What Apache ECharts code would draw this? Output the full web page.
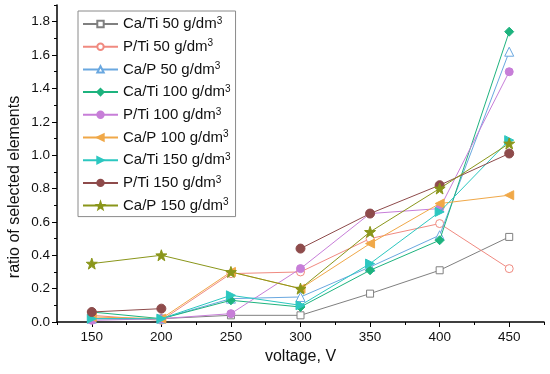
<!DOCTYPE html>
<html><head><meta charset="utf-8">
<script src="https://cdn.jsdelivr.net/npm/echarts@6/dist/echarts.min.js"></script>
<style>html,body{margin:0;padding:0;background:#fff}#c{width:550px;height:374px}</style>
</head><body><div id="c"></div>
<script>
const voltages = [150, 200, 250, 300, 350, 400, 450];
const seriesNames = ['Ca/Ti 50', 'P/Ti 50', 'Ca/P 50', 'Ca/Ti 100', 'P/Ti 100', 'Ca/P 100', 'Ca/Ti 150', 'P/Ti 150', 'Ca/P 150'];
const caTi50  = [0.02, 0.02, 0.04, 0.04, 0.17, 0.31, 0.51];
const pTi50   = [0.04, 0.01, 0.29, 0.30, 0.50, 0.59, 0.32];
const caP50   = [0.02, 0.02, 0.14, 0.15, 0.33, 0.52, 1.62];
const caTi100 = [0.06, 0.02, 0.13, 0.09, 0.31, 0.49, 1.74];
const pTi100  = [0.01, 0.02, 0.05, 0.32, 0.65, 0.68, 1.50];
const caP100  = [0.03, 0.02, 0.30, 0.20, 0.47, 0.71, 0.76];
const caTi150 = [0.02, 0.02, 0.16, 0.10, 0.35, 0.66, 1.09];
const pTi150  = [0.06, 0.08, null, 0.44, 0.65, 0.82, 1.01];
const caP150  = [0.35, 0.40, 0.30, 0.20, 0.54, 0.80, 1.07];
const xMajorTicks = [150, 200, 250, 300, 350, 400, 450];
const yMajorTicks = [0, 0.2, 0.4, 0.6, 0.8, 1.0, 1.2, 1.4, 1.6, 1.8];

const values = [caTi50, pTi50, caP50, caTi100, pTi100, caP100, caTi150, pTi150, caP150];
const STAR = 'path://M0,-10 L2.35,-3.24 L9.51,-3.09 L3.8,1.24 L5.88,8.09 L0,4 L-5.88,8.09 L-3.8,1.24 L-9.51,-3.09 L-2.35,-3.24Z';
const styles = [
  {c:'#808080', sym:'rect', size:7, open:true},
  {c:'#f08a80', sym:'circle', size:8, open:true},
  {c:'#6aa8e0', sym:'triangle', size:9, open:true},
  {c:'#1db37e', sym:'diamond', size:9, open:false},
  {c:'#c77ed8', sym:'circle', size:8, open:false},
  {c:'#f0a848', sym:'triangle', size:9, open:false, rot:90},
  {c:'#2cc7c0', sym:'triangle', size:9, open:false, rot:-90},
  {c:'#8e4b4b', sym:'circle', size:9, open:false},
  {c:'#8a961a', sym:STAR, size:11, open:false}
];
const FONT = '"Liberation Sans", Arial, sans-serif';

const series = seriesNames.map((n, i) => {
  const s = styles[i];
  return {
    name: n, type: 'line', xAxisIndex: 0, yAxisIndex: 0,
    data: voltages.map((v, j) => [v, values[i][j]]),
    symbol: s.sym, symbolSize: s.size, symbolRotate: s.rot || 0,
    showAllSymbol: true, connectNulls: false,
    lineStyle: {color: s.c, width: 1},
    itemStyle: s.open ? {color: '#fff', borderColor: s.c, borderWidth: 1} : {color: s.c, borderColor: s.c, borderWidth: 1},
    emphasis: {disabled: true},
    z: 2 + i
  };
});

const chart = echarts.init(document.getElementById('c'), null, {renderer: 'canvas'});
chart.setOption({
  animation: false,
  backgroundColor: '#fff',
  grid: {left: 57, right: 6, top: 5, bottom: 52, containLabel: false},
  xAxis: [
    {type: 'value', min: 125, max: 475, interval: 25,
     axisLine: {show: true, lineStyle: {color: '#000', width: 1.5}},
     axisTick: {show: true, length: 3, inside: false, lineStyle: {color: '#000'}},
     axisLabel: {color: '#111', fontSize: 13.5, fontFamily: FONT, margin: 8,
       formatter: v => (Math.round(v) % 50 === 0 ? String(Math.round(v)) : '')},
     splitLine: {show: false},
     name: 'voltage, V', nameLocation: 'middle', nameGap: 24,
     nameTextStyle: {color: '#111', fontSize: 16, fontFamily: FONT}},
    {type: 'value', min: 125, max: 475, position: 'bottom',
     axisLine: {show: false},
     axisTick: {show: true, length: 5, customValues: xMajorTicks, lineStyle: {color: '#000'}},
     axisLabel: {show: false}, splitLine: {show: false}}
  ],
  yAxis: [
    {type: 'value', min: 0, max: 1.9, interval: 0.1,
     axisLine: {show: true, lineStyle: {color: '#000', width: 1.5}},
     axisTick: {show: true, length: 3, lineStyle: {color: '#000'}},
     axisLabel: {color: '#111', fontSize: 13.5, fontFamily: FONT, margin: 7,
       formatter: v => { const k = Math.round(v * 10); return (k % 2 === 0 && k <= 18) ? (k / 10).toFixed(1) : ''; }},
     splitLine: {show: false}},
    {type: 'value', min: 0, max: 1.9, position: 'left',
     axisLine: {show: false},
     axisTick: {show: true, length: 5, customValues: yMajorTicks, lineStyle: {color: '#000'}},
     axisLabel: {show: false}, splitLine: {show: false}}
  ],
  legend: {
    orient: 'vertical', left: 78, top: 11,
    padding: [5, 5, 3, 4], itemGap: 6.7, itemWidth: 35, itemHeight: 8,
    borderColor: '#8a8a8a', borderWidth: 1, backgroundColor: '#fff',
    data: seriesNames,
    formatter: name => name + ' g/dm{s|3}',
    textStyle: {color: '#111', fontSize: 15, fontFamily: FONT, lineHeight: 15,
      rich: {s: {fontSize: 10, fontFamily: FONT, color: '#111', lineHeight: 10, padding: [0, 0, 6, 0]}}}
  },
  graphic: [{
    type: 'text', x: 15, y: 187, rotation: Math.PI / 2,
    style: {text: 'ratio of selected elements', fill: '#111', font: '16px ' + FONT, textAlign: 'center', textVerticalAlign: 'middle'}
  }],
  series: series
});
</script></body></html>
